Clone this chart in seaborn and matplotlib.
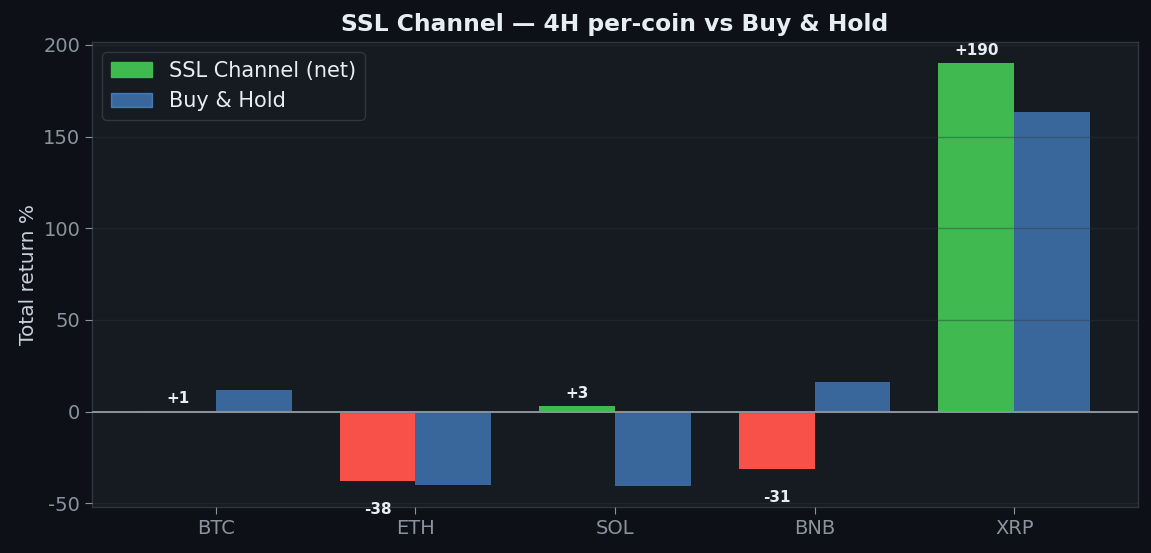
import matplotlib
matplotlib.use("Agg")
import matplotlib.pyplot as plt
import matplotlib.patches as mpatches
import numpy as np
import pandas as pd
import seaborn as sns

coins = ["BTC", "ETH", "SOL", "BNB", "XRP"]
ssl_ret = [0.6, -37.6, 3.3, -31.1, 190.3]
bh_ret = [12.0, -40.0, -40.4, 16.4, 163.4]

BG = "#0d1117"
AX_BG = "#161b22"
GREEN = "#3fb950"
RED = "#f85149"
BLUE = "#58a6ff"
GRID = "#30363d"
TXT = "#e6edf3"
MUTED = "#8b949e"

df = pd.DataFrame({
    "coin": coins * 2,
    "ret": ssl_ret + bh_ret,
    "series": ["SSL Channel (net)"] * len(coins) + ["Buy & Hold"] * len(coins),
})

sns.set_style("dark")
plt.rcParams["axes.unicode_minus"] = False
fig, ax = plt.subplots(figsize=(11.51, 5.53), dpi=100)
fig.patch.set_facecolor(BG)
ax.set_facecolor(AX_BG)

sns.barplot(data=df, x="coin", y="ret", hue="series", order=coins,
            hue_order=["SSL Channel (net)", "Buy & Hold"],
            palette=[GREEN, BLUE], width=0.76, gap=0, dodge=True,
            errorbar=None, ax=ax, legend=False, saturation=1, linewidth=0)

# recolour strategy bars by sign, fade buy & hold
for i, p in enumerate(ax.patches[:len(coins)]):
    p.set_facecolor(GREEN if ssl_ret[i] >= 0 else RED)
    p.set_edgecolor("none")
for p in ax.patches[len(coins):2 * len(coins)]:
    p.set_facecolor(BLUE)
    p.set_alpha(0.55)
    p.set_edgecolor("none")

for i, v in enumerate(ssl_ret):
    x = i - 0.19
    if v >= 0:
        ax.text(x, v + 2.5, f"+{v:.0f}", ha="center", va="bottom",
                color=TXT, fontsize=11, fontweight="bold")
    else:
        ax.text(x, v - 11.5, f"{v:.0f}", ha="center", va="top",
                color=TXT, fontsize=11, fontweight="bold")

ax.axhline(0, color=MUTED, lw=1.4, zorder=5)
ax.set_ylim(-52, 201.5)
ax.set_xlim(-0.62, 4.62)
ax.set_yticks([-50, 0, 50, 100, 150, 200])
ax.yaxis.grid(True, color=GRID, alpha=0.4, lw=1.0)
ax.xaxis.grid(False)
ax.set_axisbelow(False)

ax.set_xlabel("")
ax.set_ylabel("Total return %", color="#c9d1d9", fontsize=14.5)
ax.set_title("SSL Channel — 4H per-coin vs Buy & Hold", color=TXT,
             fontsize=16.8, fontweight="bold", pad=8)
ax.tick_params(axis="both", colors=MUTED, labelsize=14, length=5,
               bottom=True, left=True)
for s in ax.spines.values():
    s.set_color(GRID)
    s.set_linewidth(1)

handles = [mpatches.Patch(color=GREEN, label="SSL Channel (net)"),
           mpatches.Patch(color=BLUE, alpha=0.55, label="Buy & Hold")]
leg = ax.legend(handles=handles, loc="upper left", fontsize=15,
                facecolor=AX_BG, edgecolor=GRID, framealpha=1)
for t in leg.get_texts():
    t.set_color(TXT)

fig.subplots_adjust(left=0.08, right=0.9887, top=0.924, bottom=0.083)
fig.savefig("out.png", dpi=100, facecolor=BG)
